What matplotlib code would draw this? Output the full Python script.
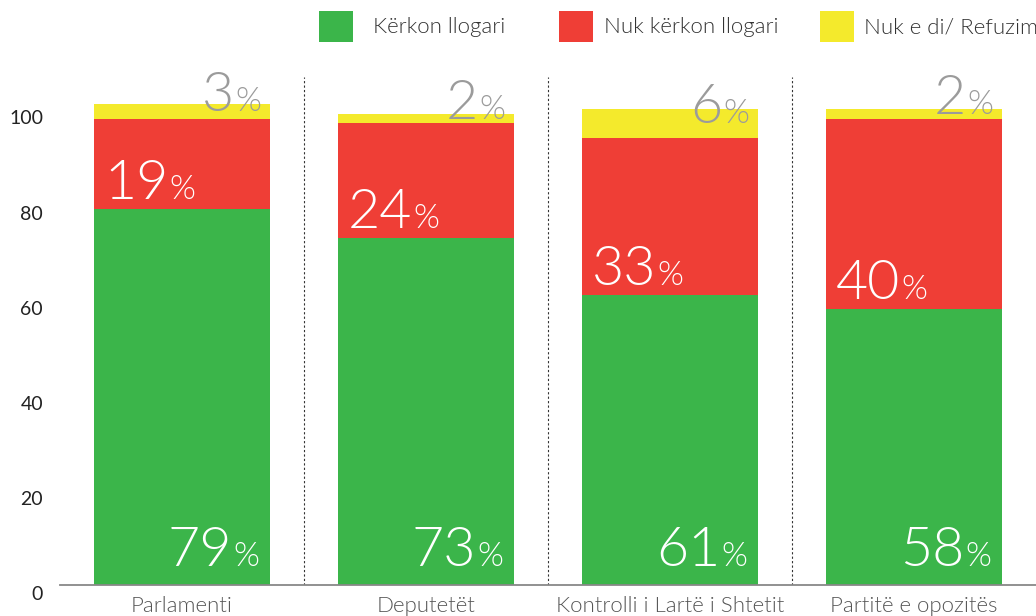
import matplotlib.pyplot as plt
import matplotlib.transforms as mtransforms
from matplotlib.patches import Rectangle
import numpy as np

# Data
categories = ['Parlamenti', 'Deputetët', 'Kontrolli i Lartë i Shtetit', 'Partitë e opozitës']
kerkon = [79, 73, 61, 58]
nuk_kerkon = [19, 24, 33, 40]
nuk_di = [3, 2, 6, 2]
series_names = ['Kërkon llogari', 'Nuk kërkon llogari', 'Nuk e di/ Refuzim']
colors = ['#3BB54A', '#EF3E36', '#F4EA2C']
yticks = [0, 20, 40, 60, 80, 100]

plt.rcParams['font.family'] = ['Lato', 'DejaVu Sans']

fig = plt.figure(figsize=(10.36, 6.16), dpi=100)
ax = fig.add_axes([60 / 1036, 31 / 616, 976 / 1036, 523.6 / 616])

x = np.arange(len(categories))
width = 0.72
green = np.array(kerkon)
red = np.array(nuk_kerkon)
yellow = np.array(nuk_di)

ax.bar(x, green, width, color=colors[0])
ax.bar(x, red, width, bottom=green, color=colors[1])
ax.bar(x, yellow, width, bottom=green + red, color=colors[2])

ax.set_xlim(-0.5, len(categories) - 0.5)
ax.set_ylim(0, 110)

# dashed separators between the groups
ax.vlines(x[:-1] + 0.5, 0, 106.7, colors='#333333', linestyles=(0, (2, 2)), lw=0.8)

for s in ['left', 'top', 'right']:
    ax.spines[s].set_visible(False)
ax.spines['bottom'].set_color('#888888')
ax.spines['bottom'].set_linewidth(1.3)

ax.set_xticks(x, categories)
ax.tick_params(axis='x', length=0, pad=8, labelsize=16, labelcolor='#555555')
for lab in ax.get_xticklabels():
    lab.set_fontweight(300)
ax.set_yticks([])

# y tick labels sit a bit below their value in the original
ylab_tr = mtransforms.offset_copy(ax.get_yaxis_transform(), fig=fig, x=-17, y=-10, units='dots')
for v in yticks:
    ax.text(0, v, str(v), ha='right', va='center', fontsize=14, color='#222222',
            transform=ylab_tr)

renderer = fig.canvas.get_renderer()


def pct_label(xd, yd, num, color, align, dx):
    big = dict(fontsize=40, fontweight=300, color=color, va='baseline')
    small = dict(fontsize=24, fontweight=300, color=color, va='baseline')
    if align == 'right':
        t = ax.text(xd, yd, '%', ha='right',
                    transform=mtransforms.offset_copy(ax.transData, fig=fig, x=dx, y=0, units='dots'),
                    **small)
        w = t.get_window_extent(renderer).width
        ax.text(xd, yd, str(num), ha='right',
                transform=mtransforms.offset_copy(ax.transData, fig=fig, x=dx - w - 0.5, y=0, units='dots'),
                **big)
    else:
        t = ax.text(xd, yd, str(num), ha='left',
                    transform=mtransforms.offset_copy(ax.transData, fig=fig, x=dx, y=0, units='dots'),
                    **big)
        w = t.get_window_extent(renderer).width
        ax.text(xd, yd, '%', ha='left',
                transform=mtransforms.offset_copy(ax.transData, fig=fig, x=dx + w + 0.5, y=0, units='dots'),
                **small)


for i in range(len(categories)):
    pct_label(x[i] + width / 2, 4, green[i], 'white', 'right', -11)
    pct_label(x[i] - width / 2, green[i] + 2, red[i], 'white', 'left', 10)
    pct_label(x[i] + width / 2, green[i] + red[i] + yellow[i] / 2, yellow[i], '#9B9B9B', 'right', -9)

# legend
leg_sq = [319, 559, 820]
leg_tx = [373, 604, 864]
for name, c, sx, tx in zip(series_names, colors, leg_sq, leg_tx):
    fig.add_artist(Rectangle((sx / 1036, (616 - 42) / 616), 34 / 1036, 31 / 616,
                             transform=fig.transFigure, color=c, lw=0))
    fig.text(tx / 1036, (616 - 27) / 616, name, ha='left', va='center',
             fontsize=16, fontweight=300, color='#333333')

fig.savefig('out.png', dpi=100)
